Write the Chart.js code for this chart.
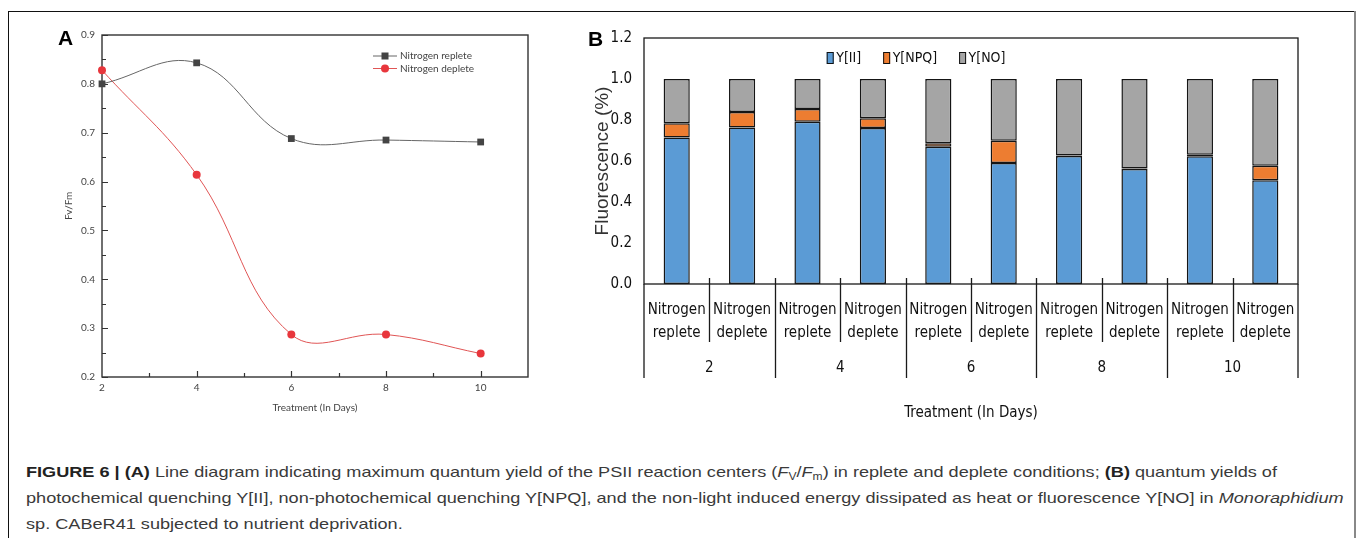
<!DOCTYPE html>
<html>
<head>
<meta charset="utf-8">
<script src="https://cdn.jsdelivr.net/npm/chart.js@4"></script>
<style>
  body { margin: 0; background: #fff; width: 1357px; height: 538px; overflow: hidden; position: relative; }
  canvas { position: absolute; top: 0; }
  #chartA { left: 0; }
  #chartB { left: 560px; }
  .frame { position: absolute; background: #111; }
  .panel { position: absolute; font-family: 'Liberation Sans', Arial, sans-serif; font-weight: bold; font-size: 21px; color: #000; }
  #cap { position: absolute; left: 26px; top: 459px; font-family: 'Liberation Sans', Arial, sans-serif; font-size: 15px; color: #3a3a3a; line-height: 26px; white-space: nowrap; transform-origin: 0 0; }
  #cap b { color: #222; }
  #cap sub { font-size: 10px; vertical-align: -3px; line-height: 0; }
</style>
</head>
<body>
<canvas id="chartA" width="560" height="430"></canvas>
<canvas id="chartB" width="797" height="430"></canvas>

<div class="frame" style="left:8px; top:11px; width:1px; height:527px;"></div>
<div class="frame" style="left:8px; top:11px; width:1347px; height:1px;"></div>
<div class="frame" style="left:1354px; top:11px; width:2px; height:527px; background:#888;"></div>

<div class="panel" style="left:58px; top:26px;">A</div>
<div class="panel" style="left:588px; top:27px;">B</div>

<div id="cap">
  <div><span id="cap1"><b>FIGURE 6 |</b> <b>(A)</b> Line diagram indicating maximum quantum yield of the PSII reaction centers (<i>F</i><sub>V</sub>/<i>F</i><sub>m</sub>) in replete and deplete conditions; <b>(B)</b> quantum yields of</span></div>
  <div>photochemical quenching Y[II], non-photochemical quenching Y[NPQ], and the non-light induced energy dissipated as heat or fluorescence Y[NO] in <i>Monoraphidium</i></div>
  <div>sp. CABeR41 subjected to nutrient deprivation.</div>
</div>

<script>
// panel A - Fv/Fm
const days = [2, 4, 6, 8, 10];
const fvReplete = [0.800, 0.843, 0.688, 0.685, 0.681];
const fvDeplete = [0.828, 0.614, 0.287, 0.287, 0.248];

// panel B - quantum yields, order: 2 replete, 2 deplete, 4 replete ...
const conditions = ['replete', 'deplete'];
const yII  = [0.715, 0.763, 0.792, 0.761, 0.670, 0.590, 0.624, 0.561, 0.623, 0.506];
const yNPQ = [0.069, 0.076, 0.062, 0.047, 0.016, 0.109, 0.003, 0.002, 0.008, 0.071];
const yNO  = [0.216, 0.161, 0.146, 0.192, 0.314, 0.301, 0.373, 0.437, 0.369, 0.423];

const fontA = { family: 'Lato, "DejaVu Sans", sans-serif', size: 10 };
const narrow = '"DejaVu Sans Condensed", "DejaVu Sans", sans-serif';

const frameA = {
  id: 'frameA',
  beforeDatasetsDraw(chart) {
    const { ctx, chartArea: a, scales: { x, y } } = chart;
    ctx.save();
    ctx.strokeStyle = '#333';
    ctx.lineWidth = 1.4;
    ctx.strokeRect(a.left, a.top, a.width, a.height);
    ctx.lineWidth = 1.2;
    ctx.beginPath();
    for (let v = 0.2; v <= 0.901; v += 0.05) {
      const py = Math.round(y.getPixelForValue(v)) + 0.5;
      const major = Math.abs(v * 10 - Math.round(v * 10)) < 0.01;
      ctx.moveTo(a.left, py);
      ctx.lineTo(a.left + (major ? 6 : 4), py);
    }
    for (let d = 3; d <= 10; d++) {
      const px = Math.round(x.getPixelForValue(d)) + 0.5;
      ctx.moveTo(px, a.bottom);
      ctx.lineTo(px, a.bottom - (d % 2 === 0 ? 6 : 4));
    }
    ctx.stroke();
    ctx.restore();
  },
  afterDraw(chart) {
    // legend
    const { ctx } = chart;
    ctx.save();
    ctx.font = '10px ' + fontA.family;
    ctx.textBaseline = 'middle';
    chart.data.datasets.forEach((ds, i) => {
      const ly = 56 + i * 12.5;
      ctx.strokeStyle = ds.borderColor;
      ctx.lineWidth = 1;
      ctx.beginPath(); ctx.moveTo(373, ly); ctx.lineTo(397, ly); ctx.stroke();
      ctx.fillStyle = ds.pointBackgroundColor;
      if (ds.pointStyle === 'rect') ctx.fillRect(381.5, ly - 3.5, 7, 7);
      else { ctx.beginPath(); ctx.arc(385, ly, 4, 0, Math.PI * 2); ctx.fill(); }
      ctx.fillStyle = '#444';
      ctx.fillText(ds.label, 400, ly);
    });
    ctx.restore();
  }
};

new Chart(document.getElementById('chartA'), {
  type: 'line',
  data: {
    datasets: [{
      label: 'Nitrogen replete',
      data: days.map((d, i) => ({ x: d, y: fvReplete[i] })),
      borderColor: '#666',
      borderWidth: 1,
      pointStyle: 'rect',
      pointRadius: 4.8,
      pointBackgroundColor: '#444',
      pointBorderColor: '#444',
      pointBorderWidth: 0,
      tension: 0.4,
      clip: false
    }, {
      label: 'Nitrogen deplete',
      data: days.map((d, i) => ({ x: d, y: fvDeplete[i] })),
      borderColor: '#e05555',
      borderWidth: 1,
      pointStyle: 'circle',
      pointRadius: 4,
      pointBackgroundColor: '#e8363c',
      pointBorderColor: '#e8363c',
      pointBorderWidth: 0,
      tension: 0.4,
      clip: false
    }]
  },
  options: {
    responsive: false,
    animation: false,
    layout: { padding: { left: 59, top: 35, right: 32, bottom: 12 } },
    plugins: { legend: { display: false }, tooltip: { enabled: false } },
    scales: {
      x: {
        type: 'linear', min: 2, max: 11,
        ticks: { stepSize: 2, includeBounds: false, padding: 5, font: fontA, color: '#444' },
        grid: { display: false, drawTicks: false },
        border: { display: false },
        title: { display: true, text: 'Treatment (In Days)', font: fontA, color: '#444' },
        afterFit: s => { s.height = 41; }
      },
      y: {
        min: 0.2, max: 0.9,
        ticks: { stepSize: 0.1, padding: 7, font: fontA, color: '#444', callback: v => v.toFixed(1) },
        grid: { display: false, drawTicks: false },
        border: { display: false },
        title: { display: true, text: 'Fv/Fm', font: fontA, color: '#444' },
        afterFit: s => { s.width = 43; }
      }
    }
  },
  plugins: [frameA]
});

// panel B
const barLabels = [];
days.forEach(d => conditions.forEach(c => barLabels.push(['Nitrogen', c])));

const frameB = {
  id: 'frameB',
  afterDraw(chart) {
    const { ctx, chartArea: a, scales: { x } } = chart;
    ctx.save();
    ctx.strokeStyle = '#1a1a1a';
    ctx.lineWidth = 1.3;
    ctx.strokeRect(a.left, a.top, a.width, a.height);
    ctx.beginPath();
    ctx.moveTo(a.left, a.bottom); ctx.lineTo(a.left, 378);
    ctx.moveTo(a.right, a.bottom); ctx.lineTo(a.right, 378);
    for (let i = 1; i < barLabels.length; i++) {
      const b = Math.round((x.getPixelForValue(i - 1) + x.getPixelForValue(i)) / 2) + 0.5;
      ctx.moveTo(b, a.bottom - 6);
      ctx.lineTo(b, i % 2 === 0 ? 378 : 342);
    }
    ctx.stroke();

    // legend
    ctx.font = '14px ' + narrow;
    ctx.textBaseline = 'middle';
    let lx = 266.7;
    const ly = 58;
    chart.data.datasets.forEach(ds => {
      ctx.fillStyle = ds.backgroundColor;
      ctx.fillRect(lx, ly - 6, 7, 12);
      ctx.lineWidth = 1;
      ctx.strokeStyle = '#111';
      ctx.strokeRect(lx + 0.5, ly - 5.5, 6, 11);
      ctx.fillStyle = '#111';
      ctx.fillText(ds.label, lx + 9.5, ly);
      lx += 9.5 + ctx.measureText(ds.label).width + 22;
    });
    ctx.restore();
  }
};

const barStyle = { borderColor: '#151515', borderWidth: 1.5, borderSkipped: false, barPercentage: 0.4, categoryPercentage: 1 };

new Chart(document.getElementById('chartB'), {
  type: 'bar',
  data: {
    labels: barLabels,
    datasets: [
      { label: 'Y[II]', data: yII, backgroundColor: '#5b9bd5', ...barStyle },
      { label: 'Y[NPQ]', data: yNPQ, backgroundColor: '#ed7d31', ...barStyle },
      { label: 'Y[NO]', data: yNO, backgroundColor: '#a5a5a5', ...barStyle }
    ]
  },
  options: {
    responsive: false,
    animation: false,
    layout: { padding: { left: 27, top: 38, right: 59, bottom: 4 } },
    plugins: { legend: { display: false }, tooltip: { enabled: false } },
    scales: {
      x: {
        stacked: true,
        grid: { display: false, drawTicks: false },
        border: { display: false },
        ticks: { autoSkip: false, maxRotation: 0, padding: 15, color: '#111', font: { family: narrow, size: 15, lineHeight: 23 / 15 } },
        afterFit: s => { s.height = 66; }
      },
      x2: {
        type: 'category',
        labels: days.map(String),
        position: 'bottom',
        offset: true,
        grid: { display: false, drawTicks: false },
        border: { display: false },
        ticks: { padding: 9.5, color: '#111', font: { family: narrow, size: 15 } },
        title: { display: true, text: 'Treatment (In Days)', color: '#111', font: { family: narrow, size: 15 } },
        afterFit: s => { s.height = 76; }
      },
      y: {
        stacked: true,
        min: 0, max: 1.2,
        ticks: { stepSize: 0.2, padding: 12, color: '#111', font: { family: narrow, size: 15 }, callback: v => v.toFixed(1) },
        grid: { display: false, drawTicks: false },
        border: { display: false },
        title: { display: true, text: 'Fluorescence (%)', color: '#333', font: { family: '"Liberation Sans", Arial, sans-serif', size: 19 } },
        afterFit: s => { s.width = 57; }
      }
    }
  },
  plugins: [frameB]
});

// fit caption to the width of the original lines
const cap = document.getElementById('cap');
const w1 = document.getElementById('cap1').getBoundingClientRect().width;
cap.style.transform = 'scaleX(' + (1251 / w1) + ')';
</script>
</body>
</html>
